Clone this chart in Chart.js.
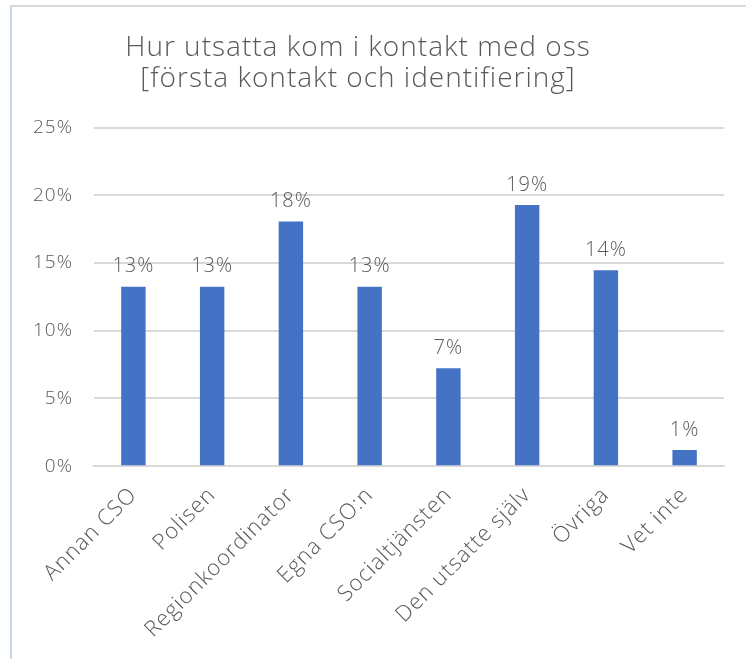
<!DOCTYPE html>
<html lang="sv">
<head>
  <meta charset="UTF-8" />
  <title>Hur utsatta kom i kontakt med oss</title>
  <script src="https://cdn.jsdelivr.net/npm/chart.js"></script>
  <style>
    html, body {
      margin: 0;
      padding: 0;
      background: #ffffff;
      overflow: hidden;
    }
    #wrap {
      position: relative;
      width: 746px;
      height: 659px;
    }
    /* chart frame, cut off at right and bottom like the reference */
    #frame {
      position: absolute;
      left: 10px;
      top: 5px;
      width: 800px;
      height: 700px;
      border-top: 2px solid #d9d9d9;
      border-left: 2px solid #c9d6ea;
    }
    #myChart {
      position: absolute;
      left: 0;
      top: 0;
    }
  </style>
</head>
<body>
  <div id="wrap">
    <div id="frame"></div>
    <canvas id="myChart" width="746" height="659"></canvas>
  </div>

  <script>
    const categories = [
      "Annan CSO",
      "Polisen",
      "Regionkoordinator",
      "Egna CSO:n",
      "Socialtjänsten",
      "Den utsatte själv",
      "Övriga",
      "Vet inte"
    ];
    // share of contacts, in percent
    const shares = [13.25, 13.25, 18.07, 13.25, 7.23, 19.28, 14.46, 1.2];
    const yTicks = [0, 5, 10, 15, 20, 25];

    const textColor = "#595959";
    const fontFamily = "'Open Sans', sans-serif";

    // the original font is wide, so space the letters out a bit
    const wideText = {
      id: "wideText",
      beforeInit(chart) { chart.ctx.letterSpacing = "1px"; },
      beforeUpdate(chart) { chart.ctx.letterSpacing = "1px"; },
      beforeDraw(chart) { chart.ctx.letterSpacing = "1px"; },
      // title sits a little left of the plot centre in the original
      afterLayout(chart) { chart.titleBlock.left -= 20; }
    };

    // draws the value above each bar
    const barLabels = {
      id: "barLabels",
      afterDatasetsDraw(chart) {
        const ctx = chart.ctx;
        const meta = chart.getDatasetMeta(0);
        ctx.save();
        ctx.fillStyle = textColor;
        ctx.font = "300 20px " + fontFamily;
        ctx.textAlign = "center";
        ctx.textBaseline = "bottom";
        meta.data.forEach((bar, i) => {
          ctx.fillText(Math.round(shares[i]) + "%", bar.x, bar.y - 10);
        });
        ctx.restore();
      }
    };

    const ctx = document.getElementById("myChart").getContext("2d");
    new Chart(ctx, {
      type: "bar",
      data: {
        labels: categories,
        datasets: [{
          data: shares,
          backgroundColor: "#4472c4",
          borderWidth: 0,
          categoryPercentage: 1,
          barPercentage: 0.31
        }]
      },
      options: {
        responsive: false,
        animation: false,
        layout: {
          padding: { left: 12, right: 22, top: 12, bottom: 0 }
        },
        plugins: {
          legend: { display: false },
          tooltip: { enabled: false },
          title: {
            display: true,
            text: ["Hur utsatta kom i kontakt med oss", "[första kontakt och identifiering]"],
            color: textColor,
            font: { family: fontFamily, size: 28, weight: "300", lineHeight: 1.1 },
            padding: { top: 21, bottom: 33 }
          }
        },
        scales: {
          x: {
            grid: { display: false, drawTicks: false },
            border: { display: true, color: "#d9d9d9", width: 2 },
            ticks: {
              color: textColor,
              font: { family: fontFamily, size: 22, weight: "300" },
              minRotation: 45,
              maxRotation: 45,
              padding: 16
            }
          },
          y: {
            min: 0,
            max: 25,
            afterBuildTicks(axis) {
              axis.ticks = yTicks.map(v => ({ value: v }));
            },
            grid: { color: "#d9d9d9", lineWidth: 2, drawTicks: false },
            border: { display: false },
            ticks: {
              color: textColor,
              font: { family: fontFamily, size: 19, weight: "300" },
              padding: 21,
              callback: v => v + "%"
            }
          }
        }
      },
      plugins: [wideText, barLabels]
    });
  </script>
</body>
</html>
